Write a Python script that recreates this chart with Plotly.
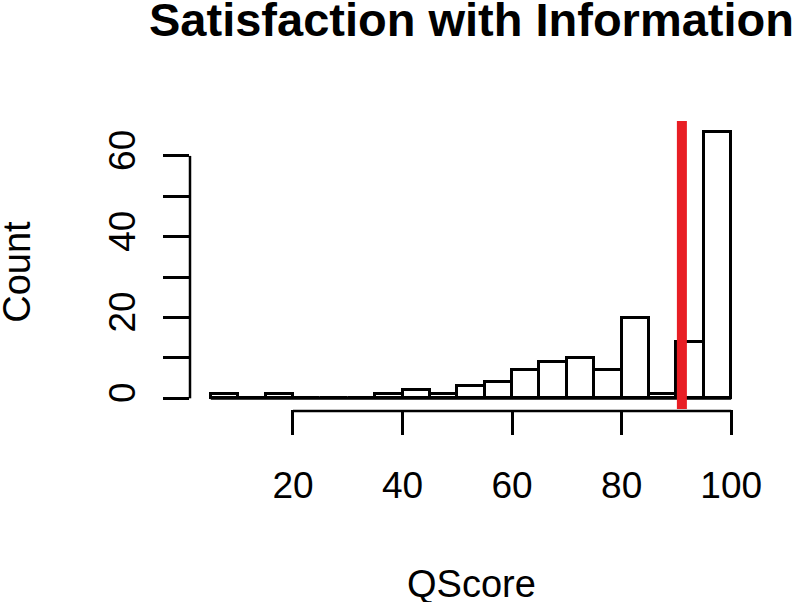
import plotly.graph_objects as go

# ---- data ----
bin_edges = [5, 10, 15, 20, 25, 30, 35, 40, 45, 50, 55, 60, 65, 70, 75, 80, 85, 90, 95, 100]
counts = [1, 0, 1, 0, 0, 0, 1, 2, 1, 3, 4, 7, 9, 10, 7, 20, 1, 14, 66]
threshold = 91
x_ticks = [20, 40, 60, 80, 100]
x_tick_labels = ["20", "40", "60", "80", "100"]
y_ticks = [0, 10, 20, 30, 40, 50, 60]
y_tick_labels = ["0", "", "20", "", "40", "", "60"]
title_text = "Satisfaction with Information"
x_title = "QScore"
y_title = "Count"

centers = [(a + b) / 2 for a, b in zip(bin_edges[:-1], bin_edges[1:])]
widths = [b - a for a, b in zip(bin_edges[:-1], bin_edges[1:])]

FONT = "Liberation Sans, Arial, Helvetica, sans-serif"

# R-style 4% axis expansion
xr = bin_edges[-1] - bin_edges[0]
x_range = [bin_edges[0] - 0.04 * xr, bin_edges[-1] + 0.04 * xr]
yr = max(counts)
y_range = [-0.04 * yr, yr * 1.04]

fig = go.Figure()
fig.add_trace(go.Bar(
    x=centers, y=counts, width=widths,
    marker=dict(color="white", line=dict(color="black", width=3)),
    showlegend=False, hoverinfo="x+y",
))

shapes = []
# baseline across all bins (zero-height bins)
shapes.append(dict(type="line", xref="x", yref="y", x0=bin_edges[0], x1=bin_edges[-1],
                   y0=0, y1=0, line=dict(color="black", width=3), layer="above"))
# x axis line spanning first..last tick
shapes.append(dict(type="line", xref="x", yref="paper", x0=x_ticks[0], x1=x_ticks[-1],
                   y0=-0.007, y1=-0.007, line=dict(color="black", width=2.5)))
# y axis line spanning first..last tick
shapes.append(dict(type="line", xref="paper", yref="y", x0=0, x1=0,
                   y0=y_ticks[0], y1=y_ticks[-1], line=dict(color="black", width=2.5)))
# red threshold line
shapes.append(dict(type="line", xref="x", yref="paper", x0=threshold, x1=threshold,
                   y0=0, y1=1, line=dict(color="rgb(232,30,36)", width=10), layer="above"))

annotations = [
    dict(text="<b>" + title_text + "</b>", xref="paper", yref="paper", x=0.5, y=1.352,
         xanchor="center", yanchor="middle", showarrow=False,
         font=dict(family=FONT, size=47, color="black")),
    dict(text=x_title, xref="paper", yref="paper", x=0.5, y=-0.608,
         xanchor="center", yanchor="middle", showarrow=False,
         font=dict(family=FONT, size=38, color="black")),
    dict(text=y_title, xref="paper", yref="paper", x=-0.308, y=0.476,
         xanchor="center", yanchor="middle", showarrow=False, textangle=-90,
         font=dict(family=FONT, size=38, color="black")),
]

fig.update_layout(
    width=800, height=602,
    margin=dict(l=190, r=48, t=121, b=193, pad=0),
    paper_bgcolor="white", plot_bgcolor="white",
    shapes=shapes, annotations=annotations,
    bargap=0,
    font=dict(family=FONT, size=38, color="black"),
    xaxis=dict(range=x_range, tickvals=x_ticks, ticktext=x_tick_labels,
               ticks="outside", ticklen=25, tickwidth=2.5, tickcolor="black",
               showline=False, showgrid=False, zeroline=False,
               tickfont=dict(family=FONT, size=37, color="black"),
               ticklabelstandoff=19),
    yaxis=dict(range=y_range, tickvals=y_ticks, ticktext=y_tick_labels,
               ticks="outside", ticklen=26, tickwidth=2.5, tickcolor="black",
               showline=False, showgrid=False, zeroline=False, tickangle=-90,
               tickfont=dict(family=FONT, size=37, color="black"),
               ticklabelstandoff=13),
)

fig.write_html("out.html",
               config={"displayModeBar": False},
               post_script="document.body.style.margin='0';document.body.style.overflow='hidden';")
